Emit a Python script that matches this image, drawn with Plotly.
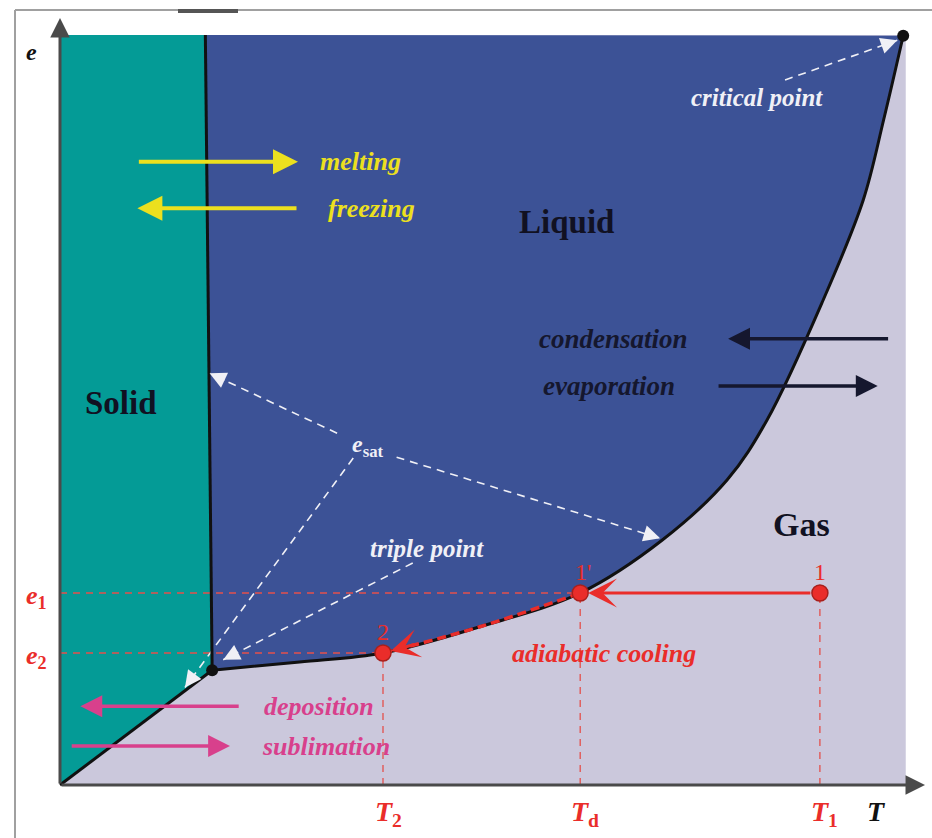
import math
import plotly.graph_objects as go

# ---------------- data (T, e in arbitrary diagram units, origin at 0) ----------------
T_MAX = 99.5      # right edge of the diagram
E_MAX = 100.0     # top edge of the diagram

# saturation vapour pressure curve: triple point -> critical point
vap_T = [17.9, 28.2, 38.0, 49.4, 61.2, 70.9, 78.5, 83.2, 89.8, 94.5, 96.9, 99.2]
vap_e = [15.3, 16.4, 17.6, 21.1, 25.6, 32.7, 40.7, 48.7, 64.7, 78.0, 88.7, 99.9]
# melting curve
melt_T = [17.9, 17.1]
melt_e = [15.3, 100.0]
# sublimation curve
sub_T = [0.0, 17.9]
sub_e = [0.0, 15.3]

# air-parcel states
state_labels = ["1", "1'", "2"]
state_T = [89.4, 61.2, 38.0]
state_e = [25.6, 25.6, 17.6]

# axis tick labels
xtick_main = ["T", "T", "T"]
xtick_sub = ["2", "d", "1"]
xtick_T = [38.0, 61.2, 89.4]
ytick_main = ["e", "e"]
ytick_sub = ["1", "2"]
ytick_e = [25.6, 17.6]

# phase region labels
region_labels = ["Solid", "Liquid", "Gas"]
region_T = [7.2, 59.6, 87.2]
region_e = [50.9, 75.1, 34.7]

# phase transition arrows
trans_labels = ["melting", "freezing", "condensation", "evaporation", "deposition", "sublimation"]
trans_tail_T = [9.1, 28.0, 97.6, 77.3, 21.2, 1.2]
trans_head_T = [28.0, 9.1, 78.6, 96.2, 2.4, 20.0]
trans_e = [83.1, 76.9, 59.5, 53.2, 10.5, 5.2]
trans_text_T = [35.3, 36.7, 65.1, 64.6, 30.5, 31.3]

# white pointer labels and dashed pointer arrows
ptr_labels = ["<b><i>critical point</i></b>", "<b><i>e</i></b><sub><b>sat</b></sub>",
              "<b><i>triple point</i></b>"]
ptr_T = [82.0, 36.2, 43.2]
ptr_e = [91.7, 45.2, 31.6]
ptr_start_T = [85.3, 32.6, 39.6, 34.5, 41.5]
ptr_start_e = [94.0, 46.9, 43.7, 43.6, 29.6]
ptr_head_T = [98.5, 17.6, 70.6, 14.7, 19.2]
ptr_head_e = [99.3, 54.9, 32.9, 13.0, 16.7]

# ---------------- styling ----------------
W, H = 932, 838
X_RANGE = [-60 / 8.5, (W - 60) / 8.5]
Y_RANGE = [-(H - 785) / 7.5, 785 / 7.5]
SX = W / (X_RANGE[1] - X_RANGE[0])
SY = H / (Y_RANGE[1] - Y_RANGE[0])

C_GAS = "#cbc8dc"
C_SOLID = "#049b96"
C_LIQ = "#3c5296"
C_RED = "#ea2d2a"
C_REDL = "#e4504c"
C_YEL = "#ece01e"
C_DARK = "#15172e"
C_PINK = "#d8408c"
C_WHITE = "#f0f0f6"
trans_colors = [C_YEL, C_YEL, C_DARK, C_DARK, C_PINK, C_PINK]
SERIF = "Liberation Serif"

fig = go.Figure()

# gas region (background rectangle)
fig.add_trace(go.Scatter(x=[0, T_MAX, T_MAX, 0], y=[0, 0, E_MAX, E_MAX], fill="toself",
                         fillcolor=C_GAS, line=dict(width=0), mode="lines", hoverinfo="skip"))
# solid region
fig.add_trace(go.Scatter(x=[sub_T[0], sub_T[1], melt_T[1], 0], y=[sub_e[0], sub_e[1], melt_e[1], E_MAX],
                         fill="toself", fillcolor=C_SOLID, line=dict(width=0), mode="lines",
                         hoverinfo="skip"))
# liquid region: top edge, then saturation curve filled to it
fig.add_trace(go.Scatter(x=[melt_T[1], vap_T[-1]], y=[melt_e[1], vap_e[-1]], mode="lines",
                         line=dict(width=0), hoverinfo="skip"))
fig.add_trace(go.Scatter(x=vap_T, y=vap_e, mode="lines", fill="tonexty", fillcolor=C_LIQ,
                         line=dict(width=0, shape="spline"), hoverinfo="skip"))

# red dashed guide lines
DASH_RED = dict(color=C_REDL, width=1.3, dash="7px,6px")
fig.add_trace(go.Scatter(x=[0, state_T[1]], y=[state_e[1], state_e[1]], mode="lines",
                         line=DASH_RED, hoverinfo="skip"))
fig.add_trace(go.Scatter(x=[0, state_T[2]], y=[state_e[2], state_e[2]], mode="lines",
                         line=DASH_RED, hoverinfo="skip"))
for t, e in zip(state_T, state_e):
    fig.add_trace(go.Scatter(x=[t, t], y=[0, e], mode="lines", line=DASH_RED, hoverinfo="skip"))

# white dashed pointer lines
for s_t, s_e, h_t, h_e in zip(ptr_start_T, ptr_start_e, ptr_head_T, ptr_head_e):
    fig.add_trace(go.Scatter(x=[s_t, h_t], y=[s_e, h_e], mode="lines",
                             line=dict(color=C_WHITE, width=1.6, dash="8px,6px"), hoverinfo="skip"))

# phase boundaries
fig.add_trace(go.Scatter(x=sub_T, y=sub_e, mode="lines", line=dict(color="#111111", width=3),
                         hoverinfo="skip"))
fig.add_trace(go.Scatter(x=melt_T, y=melt_e, mode="lines", line=dict(color="#111111", width=3),
                         hoverinfo="skip"))
fig.add_trace(go.Scatter(x=vap_T, y=vap_e, mode="lines",
                         line=dict(color="#111111", width=3, shape="spline"), hoverinfo="skip"))

# adiabatic cooling along the saturation curve (1' -> 2)
i2 = vap_T.index(state_T[2])
i1p = vap_T.index(state_T[1])
fig.add_trace(go.Scatter(x=vap_T[i2:i1p + 1], y=vap_e[i2:i1p + 1], mode="lines",
                         line=dict(color=C_RED, width=3.5, dash="9px,5px", shape="spline"),
                         hoverinfo="skip"))

# triple point and critical point dots
fig.add_trace(go.Scatter(x=[vap_T[0], vap_T[-1]], y=[vap_e[0], vap_e[-1]], mode="markers",
                         marker=dict(color="#111111", size=12), hoverinfo="skip"))
# state points
fig.add_trace(go.Scatter(x=state_T, y=state_e, mode="markers",
                         marker=dict(color=C_RED, size=16, line=dict(color="#a8201c", width=1.5)),
                         hoverinfo="skip"))

ann = []
# axes with arrows
AX_T_END = (925 - 60) / 8.5
AX_E_END = (785 - 18) / 7.5
ann.append(dict(x=AX_T_END, y=0, ax=0, ay=0, xref="x", yref="y", axref="x", ayref="y",
                showarrow=True, arrowhead=2, arrowsize=1.3, arrowwidth=3, arrowcolor="#4a4a4a", text=""))
ann.append(dict(x=0, y=AX_E_END, ax=0, ay=0, xref="x", yref="y", axref="x", ayref="y",
                showarrow=True, arrowhead=2, arrowsize=1.3, arrowwidth=3, arrowcolor="#4a4a4a", text=""))
ann.append(dict(x=0, y=E_MAX, xref="x", yref="y", xshift=-29, yshift=-17, showarrow=False,
                text="<b><i>e</i></b>", font=dict(family=SERIF, size=24, color="#111111")))
ann.append(dict(x=T_MAX, y=0, xref="x", yref="y", xshift=-29, yshift=-26, showarrow=False,
                text="<b><i>T</i></b>", font=dict(family=SERIF, size=28, color="#111111")))

# tick labels
for m, s, t in zip(xtick_main, xtick_sub, xtick_T):
    ann.append(dict(x=t, y=0, xref="x", yref="y", yshift=-28, xshift=5, showarrow=False,
                    text="<b><i>" + m + "</i></b><sub><b>" + s + "</b></sub>",
                    font=dict(family=SERIF, size=28, color=C_RED)))
for m, s, e in zip(ytick_main, ytick_sub, ytick_e):
    ann.append(dict(x=0, y=e, xref="x", yref="y", xanchor="right", xshift=-11, yshift=-4,
                    showarrow=False, text="<b><i>" + m + "</i></b><sub><b>" + s + "</b></sub>",
                    font=dict(family=SERIF, size=26, color=C_RED)))

# region labels
for lab, t, e in zip(region_labels, region_T, region_e):
    ann.append(dict(x=t, y=e, xref="x", yref="y", showarrow=False, text="<b>" + lab + "</b>",
                    font=dict(family=SERIF, size=34 if lab == "Gas" else 33, color="#111122")))

# transition arrows and labels
for lab, tt, ht, e, xt, c in zip(trans_labels, trans_tail_T, trans_head_T, trans_e, trans_text_T,
                                 trans_colors):
    ann.append(dict(x=ht, y=e, ax=tt, ay=e, xref="x", yref="y", axref="x", ayref="y", text="",
                    showarrow=True, arrowhead=2, arrowsize=1.25, arrowwidth=4 if c == C_YEL else 3.5,
                    arrowcolor=c))
    ann.append(dict(x=xt, y=e, xref="x", yref="y", showarrow=False, text="<b><i>" + lab + "</i></b>",
                    font=dict(family=SERIF, size=27 if c == C_DARK else 26, color=c)))

# white pointer labels
for lab, t, e in zip(ptr_labels, ptr_T, ptr_e):
    size = 24 if "sat" in lab else 25
    ann.append(dict(x=t, y=e, xref="x", yref="y", showarrow=False, text=lab,
                    font=dict(family=SERIF, size=size, color=C_WHITE)))
# white arrowheads
for s_t, s_e, h_t, h_e in zip(ptr_start_T, ptr_start_e, ptr_head_T, ptr_head_e):
    dx = (s_t - h_t) * SX
    dy = -(s_e - h_e) * SY
    n = math.hypot(dx, dy)
    L = 18
    ann.append(dict(x=h_t, y=h_e, xref="x", yref="y", ax=dx / n * L, ay=dy / n * L, text="",
                    showarrow=True, arrowhead=2, arrowsize=2.2, arrowwidth=1.5, arrowcolor=C_WHITE))

# red process arrows
ann.append(dict(x=state_T[1], y=state_e[1], ax=state_T[0], ay=state_e[0], xref="x", yref="y",
                axref="x", ayref="y", text="", showarrow=True, arrowhead=3, arrowsize=1.6,
                arrowwidth=3, arrowcolor=C_RED, standoff=8, startstandoff=8))
dx = (vap_T[i2 + 1] - vap_T[i2]) * SX
dy = -(vap_e[i2 + 1] - vap_e[i2]) * SY
n = math.hypot(dx, dy)
ann.append(dict(x=state_T[2], y=state_e[2], ax=dx / n * 34, ay=dy / n * 34, xref="x", yref="y",
                text="", showarrow=True, arrowhead=3, arrowsize=1.6, arrowwidth=3, arrowcolor=C_RED,
                standoff=8))
ann.append(dict(x=64.0, y=17.6, xref="x", yref="y", showarrow=False,
                text="<b><i>adiabatic cooling</i></b>", font=dict(family=SERIF, size=26, color=C_RED)))
# state labels
for lab, t, e in zip(state_labels, state_T, state_e):
    ann.append(dict(x=t, y=e, xref="x", yref="y", yshift=21, xshift=3 if "'" in lab else 0,
                    showarrow=False, text=lab, font=dict(family=SERIF, size=24, color=C_RED)))

# picture frame
shapes = [
    dict(type="line", xref="paper", yref="paper", x0=15 / W, x1=1, y0=1 - 10 / H, y1=1 - 10 / H,
         line=dict(color="#a0a0a0", width=2)),
    dict(type="line", xref="paper", yref="paper", x0=15 / W, x1=15 / W, y0=0, y1=1 - 10 / H,
         line=dict(color="#a0a0a0", width=2)),
    dict(type="line", xref="paper", yref="paper", x0=178 / W, x1=238 / W, y0=1 - 11 / H,
         y1=1 - 11 / H, line=dict(color="#555555", width=4)),
]

fig.update_layout(
    width=W, height=H, margin=dict(l=0, r=0, t=0, b=0),
    paper_bgcolor="white", plot_bgcolor="white", showlegend=False,
    xaxis=dict(range=X_RANGE, visible=False, fixedrange=True),
    yaxis=dict(range=Y_RANGE, visible=False, fixedrange=True),
    annotations=ann, shapes=shapes,
)

fig.write_html("out.html", config={"displayModeBar": False},
               post_script="document.body.style.margin='0px';document.body.style.overflow='hidden';")
